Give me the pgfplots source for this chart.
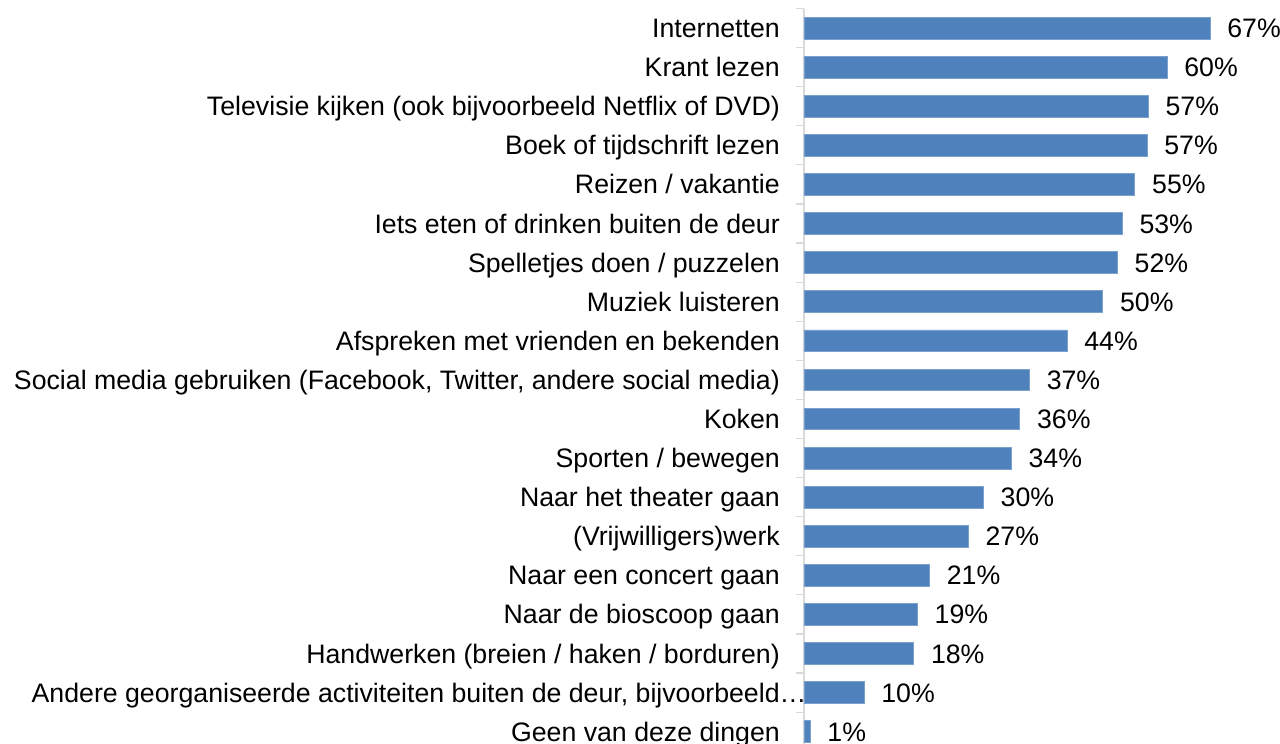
\documentclass[border=0pt]{standalone}
\usepackage{pgfplots}
\pgfplotsset{compat=1.18}
\usepackage{pgfplotstable}
\usepackage{fontspec}
\setmainfont{Liberation Sans}
\definecolor{barblue}{HTML}{4F81BD}
\definecolor{axisgray}{HTML}{D9D9D9}
\pgfplotstableread{
y x lab
0 67.0 67
1 59.9 60
2 56.8 57
3 56.6 57
4 54.6 55
5 52.5 53
6 51.7 52
7 49.3 50
8 43.4 44
9 37.2 37
10 35.6 36
11 34.2 34
12 29.6 30
13 27.1 27
14 20.7 21
15 18.7 19
16 18.1 18
17 9.9 10
18 1.0 1
}\data
\begin{document}
\begin{tikzpicture}
\begin{axis}[
  at={(0,0)}, anchor=north west,
  x=6.06bp, y=39.09bp, y dir=reverse,
  xmin=0, xmax=70, ymin=-0.5, ymax=18.5,
  axis x line=none,
  axis y line*=left,
  y axis line style={draw=axisgray, line width=1.5bp},
  clip=false,
  xbar, bar width=21.7bp, bar shift=0pt,
  ytick={0,...,18},
  yticklabels={Internetten, Krant lezen, Televisie kijken (ook bijvoorbeeld Netflix of DVD), Boek of tijdschrift lezen, Reizen / vakantie, Iets eten of drinken buiten de deur, Spelletjes doen / puzzelen, Muziek luisteren, Afspreken met vrienden en bekenden, {Social media gebruiken (Facebook, Twitter, andere social media)}, Koken, Sporten / bewegen, Naar het theater gaan, (Vrijwilligers)werk, Naar een concert gaan, Naar de bioscoop gaan, Handwerken (breien / haken / borduren), {Andere georganiseerde activiteiten buiten de deur, bijvoorbeeld\rlap{…}}, Geen van deze dingen},
  minor ytick={-0.5,0.5,...,18.5},
  major tick length=0pt,
  minor tick length=8bp,
  tick align=outside,
  minor y tick style={draw=axisgray, line width=1.2bp},
  major y tick style={draw=none},
  yticklabel style={font=\fontsize{26.7bp}{32bp}\selectfont, anchor=base east, inner sep=0pt, xshift=-24bp, yshift=-9.5bp, text=black},
  point meta=explicit symbolic,
  nodes near coords={\pgfplotspointmeta\%},
  every node near coord/.append style={font=\fontsize{26.7bp}{32bp}\selectfont, anchor=base west, inner sep=0pt, xshift=17bp, yshift=-9.5bp, text=black},
]
\addplot[fill=barblue, draw=barblue!75!white, line width=0.75bp] table[x=x, y=y, meta=lab] {\data};
\end{axis}
\pgfresetboundingbox
\path[use as bounding box] (-804bp,8.5bp) rectangle (476bp,-735.5bp);
\end{tikzpicture}
\end{document}
